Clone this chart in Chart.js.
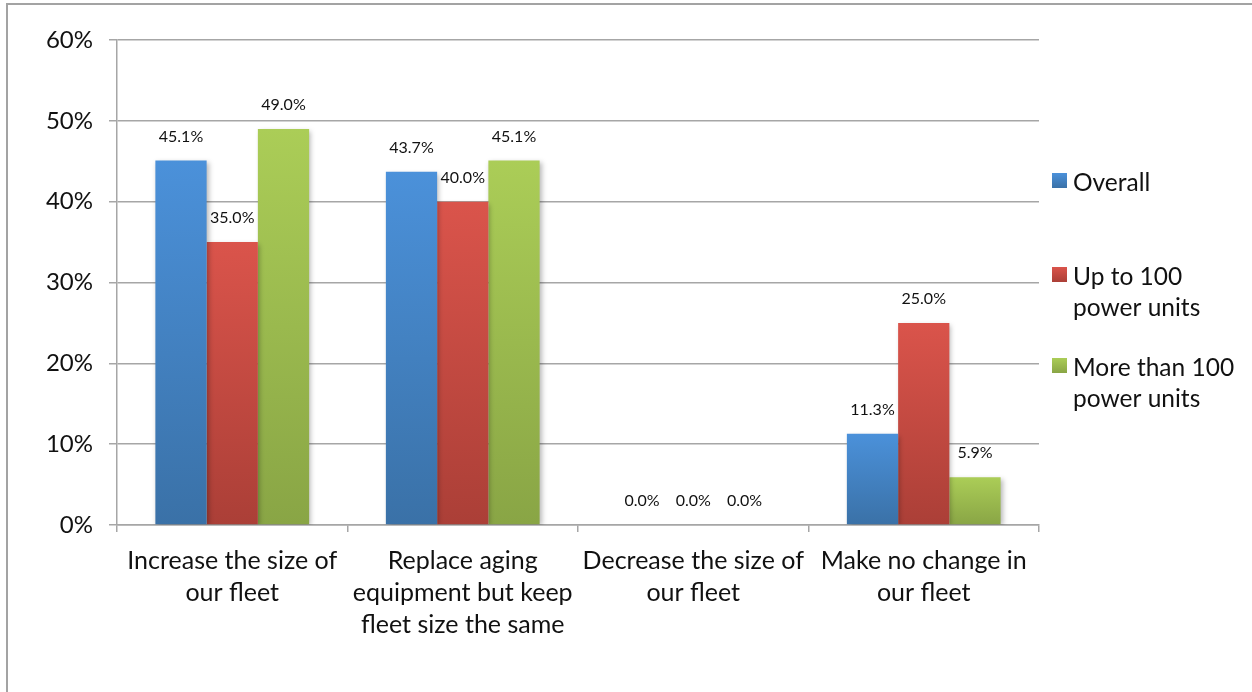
<!DOCTYPE html>
<html>
<head>
<meta charset="utf-8">
<script src="https://cdn.jsdelivr.net/npm/chart.js@4.4.1/dist/chart.umd.min.js"></script>
<style>
  html, body { margin: 0; padding: 0; background: #fff; }
  #wrap { position: relative; width: 1252px; height: 692px; overflow: hidden; }
  #frame { position: absolute; left: 6px; top: 3px; right: -4px; bottom: -4px;
           border-left: 2px solid #a3a3a3; border-top: 2px solid #a3a3a3; }
  canvas { position: absolute; left: 0; top: 0; }
</style>
</head>
<body>
<div id="wrap">
  <div id="frame"></div>
  <canvas id="chart" width="1252" height="692"></canvas>
</div>
<script>
// Survey: planned changes to fleet size, by fleet size group
const categories = [
  ['Increase the size of', 'our fleet'],
  ['Replace aging', 'equipment but keep', 'fleet size the same'],
  ['Decrease the size of', 'our fleet'],
  ['Make no change in', 'our fleet']
];
const seriesNames = [
  ['Overall'],
  ['Up to 100', 'power units'],
  ['More than 100', 'power units']
];
const overall     = [45.1, 43.7, 0.0, 11.3];
const upTo100     = [35.0, 40.0, 0.0, 25.0];
const moreThan100 = [49.0, 45.1, 0.0, 5.9];
const yTicks = [0, 10, 20, 30, 40, 50, 60];

// top / bottom colours of each series' vertical gradient
const palette = [
  ['#4b91da', '#3a71a7'],
  ['#da544b', '#ab3f37'],
  ['#abcd57', '#89a545']
];

const FONT = 'Lato, "Open Sans", sans-serif';
const AXIS_GREY = '#a6a6a6';

function barGradient(idx) {
  return function (ctx) {
    const chart = ctx.chart;
    const y = chart.scales && chart.scales.y;
    if (!chart.chartArea || !y || ctx.type !== 'data') return palette[idx][0];
    const v = ctx.raw || 0;
    const top = y.getPixelForValue(v);
    const bottom = y.getPixelForValue(0);
    if (bottom - top < 1) return palette[idx][0];
    const g = chart.ctx.createLinearGradient(0, top, 0, bottom);
    g.addColorStop(0, palette[idx][0]);
    g.addColorStop(1, palette[idx][1]);
    return g;
  };
}

// soft drop shadow under bars plus value labels above them
const barDecor = {
  id: 'barDecor',
  beforeDatasetsDraw(chart) {
    const c = chart.ctx;
    c.save();
    c.shadowColor = 'rgba(0,0,0,0.28)';
    c.shadowBlur = 5;
    c.shadowOffsetX = 2;
    c.shadowOffsetY = 2;
  },
  afterDatasetsDraw(chart) {
    const c = chart.ctx;
    c.restore();
    c.save();
    c.font = '16px ' + FONT;
    c.fillStyle = '#111';
    c.textAlign = 'center';
    c.textBaseline = 'middle';
    chart.data.datasets.forEach((ds, di) => {
      const meta = chart.getDatasetMeta(di);
      meta.data.forEach((el, i) => {
        c.fillText(ds.data[i].toFixed(1) + '%', el.x, el.y - 24);
      });
    });
    c.restore();
  }
};

// right-hand legend with wrapped entry names
const legendRowY = [183, 277, 368];
const sideLegend = {
  id: 'sideLegend',
  afterDraw(chart) {
    const c = chart.ctx;
    c.save();
    c.font = '24.5px ' + FONT;
    c.textBaseline = 'middle';
    c.textAlign = 'left';
    chart.data.datasets.forEach((ds, di) => {
      const y0 = legendRowY[di];
      const g = c.createLinearGradient(0, y0 - 10, 0, y0 + 5);
      g.addColorStop(0, palette[di][0]);
      g.addColorStop(1, palette[di][1]);
      c.fillStyle = g;
      c.fillRect(1052, y0 - 10, 15, 15);
      c.fillStyle = '#111';
      ds.label.forEach((line, li) => c.fillText(line, 1073, y0 + li * 31));
    });
    c.restore();
  }
};

const seriesData = [overall, upTo100, moreThan100];

new Chart(document.getElementById('chart'), {
  type: 'bar',
  data: {
    labels: categories,
    datasets: seriesData.map((d, i) => ({
      label: seriesNames[i],
      data: d,
      backgroundColor: barGradient(i),
      borderWidth: 0,
      categoryPercentage: 0.667,
      barPercentage: 1.0
    }))
  },
  options: {
    responsive: false,
    animation: false,
    devicePixelRatio: 1,
    layout: { padding: { top: 40, right: 213, left: 0, bottom: 0 } },
    plugins: {
      legend: { display: false },
      tooltip: { enabled: false }
    },
    scales: {
      x: {
        offset: true,
        grid: {
          offset: true,
          drawOnChartArea: false,
          drawTicks: true,
          tickLength: 7,
          color: AXIS_GREY,
          lineWidth: 1.5
        },
        border: { display: true, color: AXIS_GREY, width: 1.5 },
        ticks: {
          color: '#111',
          font: { family: FONT, size: 25, lineHeight: 1.28 },
          padding: 13,
          maxRotation: 0,
          autoSkip: false
        },
        afterFit(scale) { scale.height = 167; }
      },
      y: {
        min: 0,
        max: 60,
        afterBuildTicks(scale) { scale.ticks = yTicks.map(v => ({ value: v })); },
        grid: {
          color: AXIS_GREY,
          lineWidth: 1.5,
          tickLength: 8,
          drawTicks: true
        },
        border: { display: true, color: AXIS_GREY, width: 1.5 },
        ticks: {
          color: '#111',
          font: { family: FONT, size: 24 },
          padding: 16,
          callback: v => v + '%'
        },
        afterFit(scale) { scale.width = 117; }
      }
    }
  },
  plugins: [barDecor, sideLegend]
});
</script>
</body>
</html>
